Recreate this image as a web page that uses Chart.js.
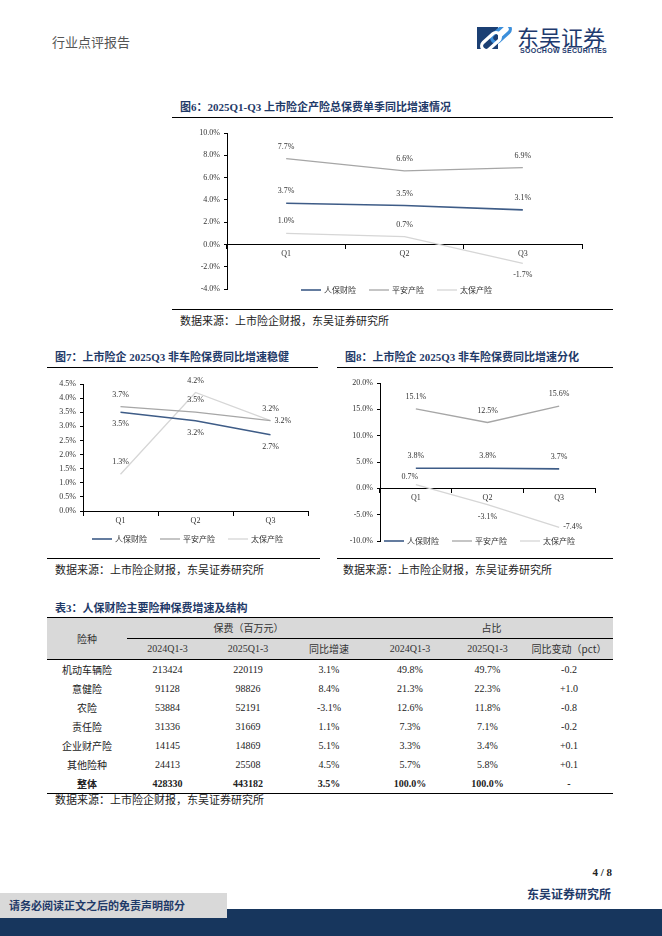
<!DOCTYPE html>
<html><head><meta charset="utf-8">
<script src="https://cdn.jsdelivr.net/npm/chart.js@4/dist/chart.umd.min.js"></script>
<style>
html,body{margin:0;padding:0;background:#fff;}
#page{position:relative;width:662px;height:936px;overflow:hidden;background:#fff;font-family:"Liberation Serif","Noto Sans CJK SC",serif;}
.abs{position:absolute;white-space:nowrap;}
.title{font-size:11px;line-height:12px;font-weight:bold;color:#1F3A68;}
.src{font-size:11px;line-height:12px;color:#222;}
.hline{position:absolute;height:1px;background:#000;}
canvas{position:absolute;}
table{position:absolute;left:47px;top:617px;width:566px;border-collapse:collapse;table-layout:fixed;font-size:10px;color:#222;}
td{padding:0;text-align:center;height:19px;line-height:19px;}
tr.h td{background:#D9D9D9;height:20px;line-height:20px;color:#333;}
</style></head>
<body><div id="page">
<div class="abs" style="left:52px;top:36px;font-size:13px;line-height:14px;color:#555;">行业点评报告</div>
<svg class="abs" style="left:477px;top:27px" width="36" height="22" viewBox="0 0 36 22">
  <rect x="0" y="0" width="21" height="22" fill="#1B3F73"/>
  <rect x="13" y="2" width="22" height="9" rx="4.5" transform="rotate(-42 24 6.5)" fill="none" stroke="#3C8FDB" stroke-width="3.2"/>
  <rect x="3" y="10" width="22" height="9" rx="4.5" transform="rotate(-42 14 14.5)" fill="none" stroke="#ffffff" stroke-width="3.2"/>
</svg>
<div class="abs" style="left:517px;top:25px;font-family:'Noto Sans CJK SC';font-size:22px;line-height:22px;color:#1E3A6E;">东吴证券</div>
<div class="abs" style="left:520px;top:47px;font-family:'Liberation Sans',sans-serif;font-size:7px;line-height:8px;font-weight:bold;color:#1E3A6E;letter-spacing:0.3px;">SOOCHOW SECURITIES</div>

<div class="abs title" style="left:180px;top:101px;">图6：2025Q1-Q3 上市险企产险总保费单季同比增速情况</div>
<div class="hline" style="left:172px;top:117px;width:441px;"></div>
<canvas id="c6" width="441" height="180" style="left:172px;top:122px;"></canvas>
<div class="hline" style="left:172px;top:309px;width:441px;"></div>
<div class="abs src" style="left:180px;top:315px;">数据来源：上市险企财报，东吴证券研究所</div>

<div class="abs title" style="left:55px;top:351px;">图7：上市险企 2025Q3 非车险保费同比增速稳健</div>
<div class="hline" style="left:47px;top:367px;width:271px;"></div>
<canvas id="c7" width="275" height="180" style="left:45px;top:372px;"></canvas>
<div class="hline" style="left:47px;top:558px;width:273px;"></div>
<div class="abs src" style="left:55px;top:564px;">数据来源：上市险企财报，东吴证券研究所</div>

<div class="abs title" style="left:345px;top:351px;">图8：上市险企 2025Q3 非车险保费同比增速分化</div>
<div class="hline" style="left:337px;top:367px;width:276px;"></div>
<canvas id="c8" width="280" height="180" style="left:335px;top:372px;"></canvas>
<div class="hline" style="left:337px;top:558px;width:276px;"></div>
<div class="abs src" style="left:343px;top:564px;">数据来源：上市险企财报，东吴证券研究所</div>

<div class="abs title" style="left:55px;top:602px;">表3：人保财险主要险种保费增速及结构</div>
<table id="tbl">
<colgroup><col style="width:80px"><col style="width:81px"><col style="width:80px"><col style="width:82px"><col style="width:80px"><col style="width:75px"><col style="width:88px"></colgroup>
<tbody id="tb"></tbody>
</table>
<div class="abs src" style="left:55px;top:794px;">数据来源：上市险企财报，东吴证券研究所</div>

<div class="abs" style="right:50px;top:866px;font-size:11px;line-height:12px;font-weight:bold;color:#222;">4 / 8</div>
<div class="abs" style="right:51px;top:887px;font-family:'Noto Sans CJK SC';font-size:12px;line-height:13px;font-weight:bold;color:#1F3A68;">东吴证券研究所</div>
<div class="abs" style="left:0;top:909px;width:662px;height:27px;background:#17365D;"></div>
<div class="abs" style="left:0;top:893px;width:227px;height:25px;background:#D9D9D9;"></div>
<div class="abs" style="left:9px;top:899px;font-family:'Noto Sans CJK SC';font-size:11px;line-height:12px;font-weight:bold;color:#1F3A68;">请务必阅读正文之后的免责声明部分</div>
</div>
<script>
// ---------- data ----------
const quarters = ['Q1', 'Q2', 'Q3'];
const seriesNames = ['人保财险', '平安产险', '太保产险'];
const fig6Picc = [3.7, 3.5, 3.1];
const fig6Pingan = [7.7, 6.6, 6.9];
const fig6Cpic = [1.0, 0.7, -1.7];
const fig7Picc = [3.5, 3.2, 2.7];
const fig7Pingan = [3.7, 3.5, 3.2];
const fig7Cpic = [1.3, 4.2, 3.2];
const fig8Picc = [3.8, 3.8, 3.7];
const fig8Pingan = [15.1, 12.5, 15.6];
const fig8Cpic = [0.7, -3.1, -7.4];

const tableLines = ['机动车辆险', '意健险', '农险', '责任险', '企业财产险', '其他险种', '整体'];
const prem2024 = ['213424', '91128', '53884', '31336', '14145', '24413', '428330'];
const prem2025 = ['220119', '98826', '52191', '31669', '14869', '25508', '443182'];
const premYoY = ['3.1%', '8.4%', '-3.1%', '1.1%', '5.1%', '4.5%', '3.5%'];
const share2024 = ['49.8%', '21.3%', '12.6%', '7.3%', '3.3%', '5.7%', '100.0%'];
const share2025 = ['49.7%', '22.3%', '11.8%', '7.1%', '3.4%', '5.8%', '100.0%'];
const shareChg = ['-0.2', '+1.0', '-0.8', '-0.2', '+0.1', '+0.1', '-'];

// ---------- table ----------
(function(){
  const tb = document.getElementById('tb');
  const cjk = "font-family:'Noto Sans CJK SC';";
  let h = '';
  h += '<tr class="h"><td rowspan="2" style="border-top:1.5px solid #000;border-bottom:1px solid #000;'+cjk+'">险种</td>' +
       '<td colspan="3" style="border-top:1.5px solid #000;border-bottom:1px solid #000;'+cjk+'">保费（百万元）</td>' +
       '<td colspan="3" style="border-top:1.5px solid #000;border-bottom:1px solid #000;'+cjk+'">占比</td></tr>';
  const hdr2 = ['2024Q1-3', '2025Q1-3', '同比增速', '2024Q1-3', '2025Q1-3', '同比变动（pct）'];
  h += '<tr class="h">' + hdr2.map(t => '<td style="border-bottom:1px solid #000;' + (/[\u4e00-\u9fff]/.test(t) ? cjk : '') + '">' + t + '</td>').join('') + '</tr>';
  tableLines.forEach((name, i) => {
    const last = i === tableLines.length - 1;
    const st = last ? 'font-weight:bold;border-bottom:1.5px solid #000;' : '';
    const cells = [prem2024[i], prem2025[i], premYoY[i], share2024[i], share2025[i], shareChg[i]];
    h += '<tr><td style="' + st + cjk + '">' + name + '</td>' + cells.map(c => '<td style="' + st + '">' + c + '</td>').join('') + '</tr>';
  });
  tb.innerHTML = h;
})();

// ---------- plugins ----------
const valueLabels = {
  id: 'valueLabels',
  afterDatasetsDraw(chart, args, opts) {
    const ctx = chart.ctx;
    ctx.save();
    ctx.font = "8px 'Liberation Serif'";
    ctx.fillStyle = '#333';
    ctx.textBaseline = 'middle';
    chart.data.datasets.forEach((ds, i) => {
      const meta = chart.getDatasetMeta(i);
      meta.data.forEach((pt, j) => {
        const p = opts.place[i][j];
        let dx = 0, dy = 0, align = 'center';
        if (p === 'above') dy = -12;
        else if (p === 'below') dy = 12;
        else if (p === 'right') { dx = 4; align = 'left'; }
        else if (p === 'aboveleft') { dx = -6; dy = -8; }
        ctx.textAlign = align;
        ctx.fillText(ds.data[j].toFixed(1) + '%', pt.x + dx, pt.y + dy);
      });
    });
    ctx.restore();
  }
};
const lineLegend = {
  id: 'lineLegend',
  afterDraw(chart, args, opts) {
    const {ctx, chartArea} = chart;
    ctx.save();
    ctx.font = "8px 'Noto Sans CJK SC'";
    const items = chart.data.datasets.map(ds => ({t: ds.label, c: ds.borderColor, w: ds.borderWidth, tw: ctx.measureText(ds.label).width}));
    const lineLen = 20, gap = 3, itemGap = 13;
    let total = items.reduce((s, it) => s + lineLen + gap + it.tw, 0) + itemGap * (items.length - 1);
    let x = (chartArea.left + chartArea.right) / 2 - 8 - total / 2;
    const y = chartArea.bottom + opts.dy;
    ctx.textBaseline = 'middle';
    ctx.textAlign = 'left';
    items.forEach(it => {
      ctx.strokeStyle = it.c; ctx.lineWidth = it.w;
      ctx.beginPath(); ctx.moveTo(x, y); ctx.lineTo(x + lineLen, y); ctx.stroke();
      ctx.fillStyle = '#333';
      ctx.fillText(it.t, x + lineLen + gap, y);
      x += lineLen + gap + it.tw + itemGap;
    });
    ctx.restore();
  }
};

const colors = ['#3E5C87', '#A6A6A6', '#D6D6D6'];
const widths = [1.6, 1.3, 1.3];

function makeChart(id, series, yMin, yMax, step, pad, place, legendDy, yWidth) {
  return new Chart(document.getElementById(id), {
    type: 'line',
    data: {
      labels: quarters,
      datasets: series.map((d, i) => ({
        label: seriesNames[i], data: d, borderColor: colors[i], borderWidth: widths[i],
        pointRadius: 0, pointHoverRadius: 0, fill: false, tension: 0
      }))
    },
    options: {
      responsive: false, animation: false, devicePixelRatio: 1,
      layout: {padding: pad},
      plugins: {legend: {display: false}, tooltip: {enabled: false},
        valueLabels: {place: place}, lineLegend: {dy: legendDy}},
      scales: {
        x: {
          position: {y: 0}, offset: true,
          grid: {offset: true, drawOnChartArea: false, drawTicks: true, tickLength: 4, color: '#000'},
          border: {display: true, color: '#000', width: 1},
          ticks: {font: {family: 'Liberation Serif', size: 8}, color: '#333', padding: 1}
        },
        y: {
          min: yMin, max: yMax,
          grid: {drawOnChartArea: false, drawTicks: true, tickLength: 3, color: '#000'},
          border: {display: true, color: '#000', width: 1},
          ticks: {stepSize: step, font: {family: 'Liberation Serif', size: 8}, color: '#333', padding: 4,
            callback: v => Number(v).toFixed(1) + '%'},
          afterFit: s => { s.width = yWidth; }
        }
      }
    },
    plugins: [valueLabels, lineLegend]
  });
}

makeChart('c6', [fig6Picc, fig6Pingan, fig6Cpic], -4, 10, 2,
  {left: 0, top: 11, right: 31, bottom: 13},
  [['above','above','above'], ['above','above','above'], ['above','above','below']], 1, 55);
makeChart('c7', [fig7Picc, fig7Pingan, fig7Cpic], 0, 4.5, 0.5,
  {left: 0, top: 12, right: 12, bottom: 41},
  [['below','below','below'], ['above','above','above'], ['above','above','right']], 28, 38);
makeChart('c8', [fig8Picc, fig8Pingan, fig8Cpic], -10, 20, 5,
  {left: 0, top: 11, right: 20, bottom: 11},
  [['above','above','above'], ['above','above','above'], ['aboveleft','below','right']], 0, 45);
</script>
</body></html>
